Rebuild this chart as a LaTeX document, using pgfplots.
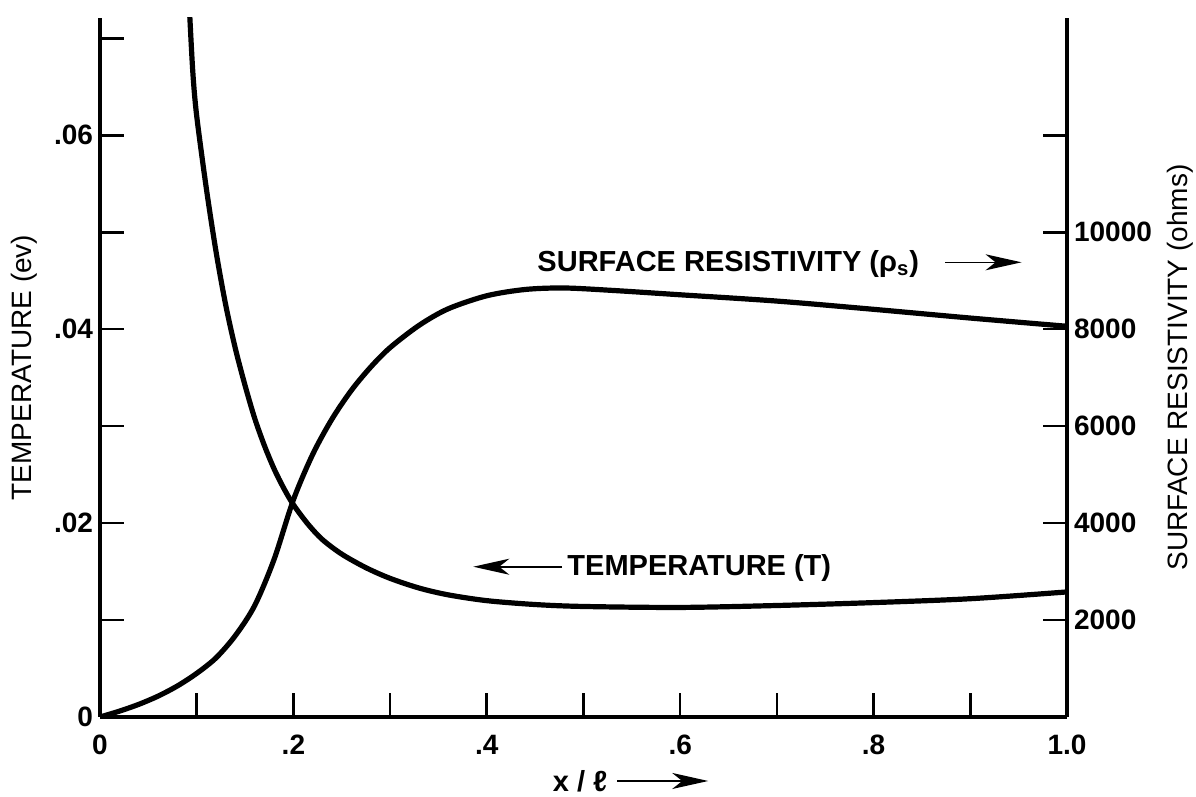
\documentclass[border=0pt]{standalone}
\usepackage{fontspec}
\setmainfont{Liberation Sans}
\usepackage{pgfplots}
\usepackage{pgfplotstable}
\pgfplotsset{compat=1.18}
\usetikzlibrary{arrows.meta}

% Temperature (ev), left axis
\pgfplotstableread{
x T
0.0925 0.0730
0.096 0.0665
0.100 0.0620
0.110 0.0545
0.120 0.0480
0.130 0.0425
0.140 0.0380
0.150 0.0342
0.160 0.0308
0.170 0.0280
0.180 0.0256
0.190 0.0236
0.200 0.0219
0.215 0.0199
0.230 0.0183
0.250 0.0168
0.275 0.0154
0.300 0.0143
0.330 0.0133
0.360 0.0126
0.400 0.0120
0.450 0.0116
0.500 0.0114
0.600 0.0113
0.700 0.0115
0.800 0.0118
0.900 0.0122
1.000 0.0129
}\tempdata

% Surface resistivity (ohms), right axis
\pgfplotstableread{
x R
0.00 0
0.02 120
0.04 260
0.06 430
0.08 640
0.10 900
0.12 1220
0.14 1680
0.16 2300
0.18 3250
0.20 4480
0.22 5420
0.24 6150
0.26 6740
0.28 7220
0.30 7620
0.33 8080
0.36 8420
0.40 8690
0.44 8820
0.48 8850
0.53 8800
0.60 8710
0.70 8580
0.80 8410
0.90 8230
1.00 8060
}\resdata

\begin{document}
\begin{tikzpicture}[font=\fontsize{14}{16}\selectfont]
\useasboundingbox (-50pt,-40pt) rectangle (548pt,358.5pt);
\pgfplotsset{
  common/.style={
    at={(0,0)}, anchor=south west, scale only axis,
    width=483.5pt, height=349.5pt,
    xmin=0, xmax=1,
    scaled ticks=false,
    tick style={black, line width=1.3pt},
    tick label style={font=\fontsize{14}{16}\selectfont\bfseries},
    /pgf/number format/assume math mode=true,
    clip mode=individual,
  },
  noarrows/.style={
    axis line style={-, line width=1.8pt},
    x axis line style={-},
    y axis line style={-},
    every outer x axis line/.append style={-},
    every outer y axis line/.append style={-},
    every inner x axis line/.append style={-},
    every inner y axis line/.append style={-},
    tick align=inside,
    major tick length=12pt,
  }
}
\begin{axis}[common,
  axis x line=bottom, axis y line=left,
  noarrows,
  ymin=0, ymax=0.0721,
  xtick={0,0.1,0.2,0.3,0.4,0.5,0.6,0.7,0.8,0.9,1.0},
  xticklabels={0,,.2,,.4,,.6,,.8,,1.0},
  ytick={0,0.01,0.02,0.03,0.04,0.05,0.06,0.07},
  yticklabels={0,,.02,,.04,,.06,},
  xticklabel shift=5.5pt,
  ylabel={TEMPERATURE (ev)},
  every axis y label/.style={at={(axis description cs:-0.078,0.5)}, rotate=90, anchor=center},
]
\addplot[black, line width=2.6pt, smooth, line cap=round] table[x=x,y=T]{\tempdata};
\node[anchor=base west, inner sep=0, font=\fontsize{14.5}{16}\selectfont\bfseries] at (axis cs:0.483,0.0146) {TEMPERATURE (T)};
\draw[line width=0.8pt, -{Stealth[length=18pt,width=8pt,inset=5pt]}] (axis cs:0.478,0.0155) -- (axis cs:0.386,0.0155);
\node[anchor=base west, inner sep=0, font=\fontsize{14.5}{16}\selectfont\bfseries] at (axis cs:0.452,0.0460) {SURFACE RESISTIVITY (ρ\textsubscript{s})};
\draw[line width=0.8pt, -{Stealth[length=18pt,width=8pt,inset=5pt]}] (axis cs:0.874,0.0469) -- (axis cs:0.953,0.0469);
\node[anchor=base west, inner sep=0, font=\fontsize{14.5}{16}\selectfont\bfseries] at (axis cs:0.468,-0.0077) {x / ℓ};
\draw[line width=0.8pt, -{Stealth[length=18pt,width=8pt,inset=5pt]}] (axis cs:0.535,-0.0066) -- (axis cs:0.629,-0.0066);
\end{axis}
\begin{axis}[common,
  axis x line=none, axis y line=right,
  noarrows,
  ymin=0, ymax=14420,
  ytick={2000,4000,6000,8000,10000,12000},
  yticklabels={2000,4000,6000,8000,10000,},
  ylabel={SURFACE RESISTIVITY (ohms)},
  every axis y label/.style={at={(axis description cs:1.117,0.5)}, rotate=90, anchor=center},
]
\addplot[black, line width=2.6pt, smooth, line cap=round] table[x=x,y=R]{\resdata};
\end{axis}
\end{tikzpicture}
\end{document}
